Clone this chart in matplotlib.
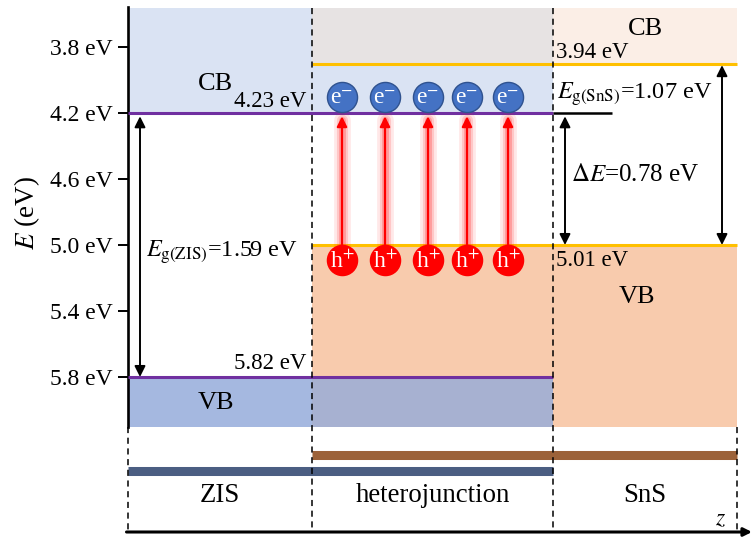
import matplotlib
matplotlib.use('Agg')
import matplotlib.pyplot as plt
from matplotlib.patches import Rectangle

plt.rcParams['font.family'] = ['Liberation Serif', 'DejaVu Serif']
plt.rcParams['mathtext.fontset'] = 'stix'

# ---------------- data ----------------
region_names = ['ZIS', 'heterojunction', 'SnS']
region_edges = [0, 184, 425, 609]          # z positions of region boundaries
tick_values = [3.8, 4.2, 4.6, 5.0, 5.4, 5.8]
tick_labels = ['3.8 eV', '4.2 eV', '4.6 eV', '5.0 eV', '5.4 eV', '5.8 eV']

zis_cb = 4.20      # drawn level of ZIS conduction band
zis_vb = 5.80      # drawn level of ZIS valence band
sns_cb = 3.90      # drawn level of SnS conduction band
sns_vb = 5.00      # drawn level of SnS valence band
band_top = 3.562
band_bottom = 6.103

zis_cb_label = '4.23 eV'
zis_vb_label = '5.82 eV'
sns_cb_label = '3.94 eV'
sns_vb_label = '5.01 eV'
eg_zis_label = r'$E_{\mathrm{g(ZIS)}}$=1.59 eV'
eg_sns_label = r'$E_{\mathrm{g(SnS)}}$=1.07 eV'
de_label = r'$\Delta E$=0.78 eV'

carrier_z = [214, 257, 300, 339, 380]
electron_E = 4.101
hole_E = 5.091

# ---------------- helpers (pixel -> data) ----------------
def X(px):
    return px - 128

def Y(py):
    return 3.8 + (py - 47) / 165.0

W, H = 753, 537
fig = plt.figure(figsize=(W / 100, H / 100), dpi=100)
ax = fig.add_axes([128 / W, 0, (W - 128) / W, 1])
ax.set_xlim(0, W - 128)
ax.set_ylim(Y(H), Y(0))

# colours
c_zis_cb = '#dae3f3'
c_mix_top = '#e7e3e3'
c_sns_cb = '#fbeee6'
c_sns_vb = '#f8cbad'
c_mix_bot = '#a7b1d1'
c_zis_vb = '#a5b8e0'
purple = '#7030a0'
yellow = '#ffc000'

x0, x1, x2, x3 = region_edges

def rect(xa, xb, ya, yb, color):
    ax.add_patch(Rectangle((xa, ya), xb - xa, yb - ya, facecolor=color,
                           edgecolor='none', zorder=1))

# conduction band regions
rect(x0, x1, band_top, zis_cb, c_zis_cb)
rect(x1, x2, band_top, sns_cb, c_mix_top)
rect(x1, x2, sns_cb, zis_cb, c_zis_cb)
rect(x2, x3, band_top, sns_cb, c_sns_cb)
# valence band regions
rect(x1, x2, sns_vb, zis_vb, c_sns_vb)
rect(x1, x2, zis_vb, band_bottom, c_mix_bot)
rect(x0, x1, zis_vb, band_bottom, c_zis_vb)
rect(x2, x3, sns_vb, band_bottom, c_sns_vb)

# band edge lines
ax.plot([x0, x2], [zis_cb, zis_cb], color=purple, lw=2.2, zorder=3, solid_capstyle='butt')
ax.plot([x0, x2], [zis_vb, zis_vb], color=purple, lw=2.2, zorder=3, solid_capstyle='butt')
ax.plot([x1, x3], [sns_cb, sns_cb], color=yellow, lw=2.2, zorder=3, solid_capstyle='butt')
ax.plot([x1, x3], [sns_vb, sns_vb], color=yellow, lw=2.2, zorder=3, solid_capstyle='butt')
ax.plot([x2, X(612)], [zis_cb, zis_cb], color='black', lw=1.8, zorder=3, solid_capstyle='butt')

# dashed region separators
z_axis_E = Y(532)
dash = dict(color='black', lw=1.1, ls=(0, (4, 3)), zorder=4, clip_on=False)
ax.plot([x1, x1], [band_top, z_axis_E], **dash)
ax.plot([x2, x2], [band_top, z_axis_E], **dash)
ax.plot([x0, x0], [band_bottom, z_axis_E], **dash)
ax.plot([x3, x3], [band_bottom, z_axis_E], **dash)

# bottom bars
ax.plot([x1, x3], [Y(454.5), Y(454.5)], color='#9c6239', lw=6.5, solid_capstyle='butt', zorder=3)
ax.plot([x0, x2], [Y(471), Y(471)], color='#4b5e82', lw=6.5, solid_capstyle='butt', zorder=3)

# double arrows
def darrow(x, ya, yb):
    ax.annotate('', xy=(x, ya), xytext=(x, yb),
                arrowprops=dict(arrowstyle='<|-|>', color='black', lw=1.4,
                                mutation_scale=16, shrinkA=0, shrinkB=0), zorder=5)

darrow(X(140), zis_cb + 0.02, zis_vb)
darrow(X(565), zis_cb + 0.02, sns_vb)
darrow(X(722), sns_cb + 0.01, sns_vb)

# excitation arrows with glow
for z in carrier_z:
    ya, yb = hole_E - 0.085, zis_cb + 0.02
    for lw, a in [(12, 0.10), (8, 0.16), (5, 0.25)]:
        ax.plot([z, z], [ya, yb + 0.02], color='#ff2020', lw=lw, alpha=a,
                solid_capstyle='round', zorder=4)
    ax.annotate('', xy=(z, yb), xytext=(z, ya),
                arrowprops=dict(arrowstyle='-|>', color='red', lw=1.6,
                                mutation_scale=15, shrinkA=0, shrinkB=0), zorder=5)

# carriers
ax.scatter(carrier_z, [electron_E] * len(carrier_z), s=470, color='#4472c4',
           edgecolor='#2f528f', linewidth=1.0, zorder=6)
ax.scatter(carrier_z, [hole_E] * len(carrier_z), s=470, color='#ff0000',
           edgecolor='#ff0000', linewidth=1.0, zorder=6)
for z in carrier_z:
    ax.text(z, electron_E + 0.012, r'e$^{\mathsf{-}}$', color='white', fontsize=17,
            ha='center', va='center', zorder=7)
    ax.text(z, hole_E + 0.012, r'h$^{+}$', color='white', fontsize=17,
            ha='center', va='center', zorder=7)

# labels
ax.text(X(215), Y(84), 'CB', fontsize=19, ha='center', va='center', zorder=6)
ax.text(X(216), Y(403), 'VB', fontsize=19, ha='center', va='center', zorder=6)
ax.text(X(645), Y(29), 'CB', fontsize=19, ha='center', va='center', zorder=6)
ax.text(X(637), Y(297), 'VB', fontsize=19, ha='center', va='center', zorder=6)
ax.text(X(306), Y(102), zis_cb_label, fontsize=16.5, ha='right', va='center', zorder=6)
ax.text(X(306), Y(364), zis_vb_label, fontsize=16.5, ha='right', va='center', zorder=6)
ax.text(X(556), Y(52), sns_cb_label, fontsize=16.5, ha='left', va='center', zorder=6)
ax.text(X(556), Y(261), sns_vb_label, fontsize=16.5, ha='left', va='center', zorder=6)
ax.text(X(146), Y(252), eg_zis_label, fontsize=17.5, ha='left', va='center', zorder=6)
ax.text(X(557), Y(94), eg_sns_label, fontsize=17.5, ha='left', va='center', zorder=6)
ax.text(X(571), Y(175), de_label, fontsize=18, ha='left', va='center', zorder=6)

label_y = Y(496)
for i, name in enumerate(region_names):
    ax.text((region_edges[i] + region_edges[i + 1]) / 2, label_y, name,
            fontsize=19.3, ha='center', va='center')

# z axis arrow
ax.annotate('', xy=(X(752), z_axis_E), xytext=(-1.5, z_axis_E),
            arrowprops=dict(arrowstyle='-|>', color='black', lw=2.2,
                            mutation_scale=12, shrinkA=0, shrinkB=0),
            annotation_clip=False)
ax.text(X(721), Y(520), r'$z$', fontsize=17, ha='center', va='center')

# y axis
ax.set_yticks(tick_values)
ax.set_yticklabels(tick_labels)
ax.set_xticks([])
ax.tick_params(axis='y', labelsize=17, length=7, width=1.4, direction='out', pad=4)
for s in ['top', 'right', 'bottom']:
    ax.spines[s].set_visible(False)
ax.spines['left'].set_linewidth(1.9)
ax.spines['left'].set_bounds(Y(7), band_bottom)
ax.patch.set_alpha(0)

fig.text(27 / W, 1 - 213 / H, r'$E$ (eV)', rotation=90, fontsize=19.5,
         ha='center', va='center')

fig.savefig('out.png', dpi=100)
